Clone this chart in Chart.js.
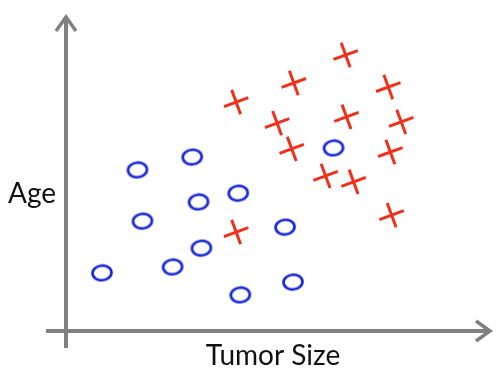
<!DOCTYPE html>
<html>
<head>
<meta charset="utf-8">
<title>Tumor Size vs Age</title>
<script src="https://cdn.jsdelivr.net/npm/chart.js@4.4.1/dist/chart.umd.min.js"></script>
<style>
    html, body { margin: 0; padding: 0; background: #ffffff; }
    #wrap { width: 500px; height: 375px; position: relative; }
</style>
</head>
<body>
<div id="wrap"><canvas id="chart"></canvas></div>
<script>
// ---- data ----
const xLabel = 'Tumor Size';
const yLabel = 'Age';

// benign (o)
const benignX = [0.86, 1.71, 3.02, 1.83, 3.17, 4.12, 3.24, 2.55, 5.24, 4.17, 5.43, 6.40];
const benignY = [1.85, 5.13, 5.54, 3.50, 4.11, 4.39, 2.64, 2.04, 3.31, 1.15, 1.56, 5.83];

// malignant (x)
const malignantX = [4.07, 5.45, 6.69, 7.71, 5.05, 6.71, 8.02, 5.40, 7.76, 6.21, 6.88, 7.79, 4.07];
const malignantY = [7.29, 7.90, 8.79, 7.77, 6.62, 6.82, 6.66, 5.80, 5.70, 4.94, 4.75, 3.69, 3.15];

const toPoints = (xs, ys) => xs.map((x, i) => ({ x: x, y: ys[i] }));

// hand-drawn "o" is a bit flatter than a circle, so use a small ellipse image
function makeEllipse(color) {
    const c = document.createElement('canvas');
    c.width = 24;
    c.height = 19;
    const g = c.getContext('2d');
    g.strokeStyle = color;
    g.lineWidth = 2.7;
    g.beginPath();
    g.ellipse(12, 9.5, 9.5, 7.3, -0.1, 0, Math.PI * 2);
    g.stroke();
    return c;
}

// ---- hand-drawn style axes with arrow heads + labels ----
const arrowAxes = {
    id: 'arrowAxes',
    beforeDatasetsDraw(chart) {
        const { ctx, chartArea, scales } = chart;
        const x0 = scales.x.getPixelForValue(0);
        const y0 = scales.y.getPixelForValue(0);
        const xEnd = chartArea.right + 6;
        const yEnd = chartArea.top;

        ctx.save();
        ctx.strokeStyle = '#808080';
        ctx.lineWidth = 4;
        ctx.lineCap = 'butt';

        // x axis
        ctx.beginPath();
        ctx.moveTo(x0 - 20, y0);
        ctx.lineTo(xEnd - 2, y0);
        ctx.stroke();
        // y axis
        ctx.beginPath();
        ctx.moveTo(x0, y0 + 17);
        ctx.lineTo(x0, yEnd + 2);
        ctx.stroke();

        // arrow heads
        ctx.lineWidth = 3.5;
        ctx.lineJoin = 'miter';
        ctx.beginPath();
        ctx.moveTo(xEnd - 14, y0 - 10);
        ctx.lineTo(xEnd, y0);
        ctx.lineTo(xEnd - 14, y0 + 10);
        ctx.stroke();
        ctx.beginPath();
        ctx.moveTo(x0 - 10, yEnd + 14);
        ctx.lineTo(x0, yEnd);
        ctx.lineTo(x0 + 10, yEnd + 14);
        ctx.stroke();

        // axis labels
        ctx.fillStyle = '#111111';
        ctx.font = '28px Lato, "Open Sans", sans-serif';
        ctx.textBaseline = 'alphabetic';
        ctx.textAlign = 'left';
        ctx.fillText(yLabel, 8, 203);
        ctx.textAlign = 'center';
        ctx.fillText(xLabel, 273, 365);
        ctx.restore();
    }
};

new Chart(document.getElementById('chart'), {
    type: 'scatter',
    data: {
        datasets: [
            {
                label: 'Benign',
                data: toPoints(benignX, benignY),
                pointStyle: makeEllipse('#1a29d6'),
                pointRadius: 10,
                borderColor: '#1a29d6',
                backgroundColor: 'rgba(0,0,0,0)',
                clip: false
            },
            {
                label: 'Malignant',
                data: toPoints(malignantX, malignantY),
                pointStyle: 'cross',
                pointRadius: 13,
                pointRotation: -20,
                pointBorderWidth: 3,
                borderColor: '#f0301a',
                backgroundColor: '#f0301a',
                clip: false
            }
        ]
    },
    options: {
        responsive: true,
        maintainAspectRatio: false,
        animation: false,
        layout: {
            padding: { left: 66, right: 14, top: 17, bottom: 44 }
        },
        scales: {
            x: { type: 'linear', min: 0, max: 10, display: false },
            y: { type: 'linear', min: 0, max: 10, display: false }
        },
        plugins: {
            legend: { display: false },
            tooltip: { enabled: false }
        }
    },
    plugins: [arrowAxes]
});
</script>
</body>
</html>
